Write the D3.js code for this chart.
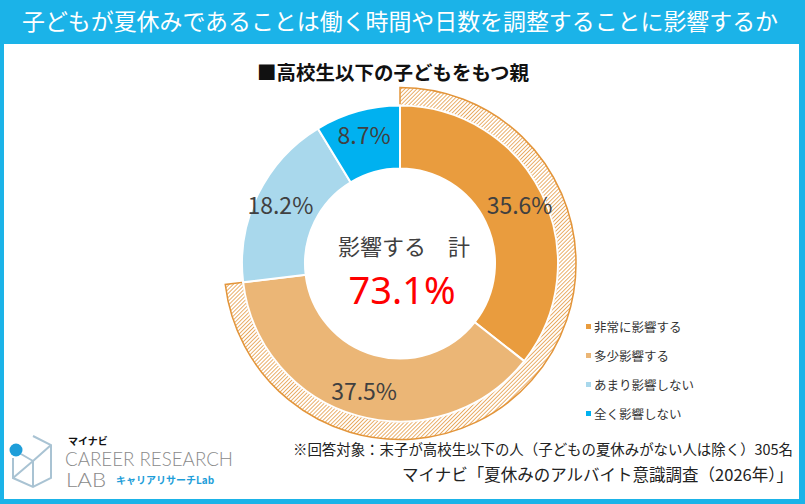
<!DOCTYPE html>
<html>
<head>
<meta charset="utf-8">
<script src="https://cdn.jsdelivr.net/npm/d3@7"></script>
<style>
  body { margin: 0; background: #fff; }
  svg { display: block; font-family: "Noto Sans CJK JP", "Noto Sans", sans-serif; }
</style>
</head>
<body>
<div id="chart"></div>
<script>
// data
var categories = ["非常に影響する", "多少影響する", "あまり影響しない", "全く影響しない"];
var values = [35.6, 37.5, 18.2, 8.7];
var colors = ["#E99C3E", "#EBB676", "#A9D8EC", "#00B1F0"];
var totalLabel = "影響する　計";
var titleText = "子どもが夏休みであることは働く時間や日数を調整することに影響するか";
var subTitle = "■高校生以下の子どもをもつ親";
var noteText = "※回答対象：末子が高校生以下の人（子どもの夏休みがない人は除く）305名";
var sourceText = "マイナビ「夏休みのアルバイト意識調査（2026年）」";

var width = 805, height = 504,
    cx = 400, cy = 263.5,
    rIn = 95, rOut = 158, rHatch = 176;

var svg = d3.select("#chart")
    .append("svg")
    .attr("width", width)
    .attr("height", height);

// hatch pattern
var defs = svg.append("defs");
defs.append("pattern")
    .attr("id", "hatch")
    .attr("patternUnits", "userSpaceOnUse")
    .attr("width", 2.8)
    .attr("height", 2.8)
    .attr("patternTransform", "rotate(45)")
    .append("line")
    .attr("x1", 0).attr("y1", 0)
    .attr("x2", 0).attr("y2", 2.8)
    .attr("stroke", "#E3953A")
    .attr("stroke-width", 1.5);

// frame
svg.append("rect").attr("x", 0).attr("y", 0).attr("width", width).attr("height", height).attr("fill", "#1BB3E8");
svg.append("rect").attr("x", 4).attr("y", 44).attr("width", 795).attr("height", 455).attr("fill", "#fff");

svg.append("text")
    .attr("x", 400).attr("y", 30)
    .attr("text-anchor", "middle")
    .attr("fill", "#fff")
    .attr("font-size", 22.5)
    .attr("textLength", 756)
    .attr("lengthAdjust", "spacingAndGlyphs")
    .text(titleText);

svg.append("text")
    .attr("x", 393).attr("y", 80)
    .attr("text-anchor", "middle")
    .attr("fill", "#111")
    .attr("font-size", 19.5)
    .attr("font-weight", "bold")
    .text(subTitle);

var pie = d3.pie().sort(null).value(d => d);
var arcs = pie(values);
var arc = d3.arc().innerRadius(rIn).outerRadius(rOut);
var labelArc = d3.arc().innerRadius(133).outerRadius(133);

var g = svg.append("g").attr("transform", `translate(${cx},${cy})`);

// hatched ring for the two "影響する" slices
var total = values[0] + values[1];
var hatchArc = d3.arc()
    .innerRadius(rOut)
    .outerRadius(rHatch)
    .startAngle(0)
    .endAngle(2 * Math.PI * total / d3.sum(values));
g.append("path")
    .attr("d", hatchArc())
    .attr("fill", "url(#hatch)")
    .attr("stroke", "#E3953A")
    .attr("stroke-width", 1.5);

g.selectAll(".slice")
    .data(arcs)
    .enter()
    .append("path")
    .attr("class", "slice")
    .attr("d", arc)
    .attr("fill", (d, i) => colors[i])
    .attr("stroke", "#fff")
    .attr("stroke-width", 2);

g.selectAll(".lbl")
    .data(arcs)
    .enter()
    .append("text")
    .attr("class", "lbl")
    .attr("transform", d => `translate(${labelArc.centroid(d)})`)
    .attr("text-anchor", "middle")
    .attr("dy", "0.36em")
    .attr("fill", "#404040")
    .attr("font-size", 23)
    .text(d => d.data.toFixed(1) + "%");

g.append("text")
    .attr("x", 4).attr("y", -9)
    .attr("text-anchor", "middle")
    .attr("fill", "#404040")
    .attr("font-size", 22)
    .text(totalLabel);

g.append("text")
    .attr("x", 2).attr("y", 40)
    .attr("text-anchor", "middle")
    .attr("fill", "#FF0000")
    .attr("font-family", "'Noto Sans', sans-serif")
    .attr("font-size", 38)
    .text(total.toFixed(1) + "%");

// legend
var legend = svg.append("g").attr("transform", "translate(586,327)");
var rows = legend.selectAll("g")
    .data(categories)
    .enter()
    .append("g")
    .attr("transform", (d, i) => `translate(0,${i * 29})`);
rows.append("rect")
    .attr("x", 0).attr("y", -3)
    .attr("width", 5).attr("height", 5)
    .attr("fill", (d, i) => colors[i]);
rows.append("text")
    .attr("x", 8).attr("dy", "0.36em")
    .attr("fill", "#333")
    .attr("font-size", 12.5)
    .text(d => d);

// notes
svg.append("text")
    .attr("x", 793).attr("y", 455)
    .attr("text-anchor", "end")
    .attr("fill", "#222")
    .attr("font-size", 14.5)
    .attr("textLength", 500)
    .attr("lengthAdjust", "spacingAndGlyphs")
    .text(noteText);

svg.append("text")
    .attr("x", 793).attr("y", 481)
    .attr("text-anchor", "end")
    .attr("fill", "#222")
    .attr("font-size", 16.5)
    .text(sourceText);

// logo
var logo = svg.append("g");
logo.append("path")
    .attr("d", "M33,436 L51,445 L51,478 L33,487 L13,478 L13,458 M33,461 L51,445 M33,461 L33,487 M21,454 L33,461 M33,461 L13,478")
    .attr("fill", "none")
    .attr("stroke", "#A9C3D3")
    .attr("stroke-width", 2);
logo.append("circle")
    .attr("cx", 16).attr("cy", 450).attr("r", 6.5)
    .attr("fill", "#1E9ED9");
logo.append("text")
    .attr("x", 68).attr("y", 445)
    .attr("font-size", 10)
    .attr("font-weight", "bold")
    .attr("fill", "#111")
    .text("マイナビ");
logo.append("text")
    .attr("x", 65).attr("y", 466)
    .attr("font-family", "Lato, 'Open Sans', sans-serif")
    .attr("font-weight", 300)
    .attr("font-size", 19)
    .attr("fill", "#8a8a8a")
    .attr("textLength", 168)
    .attr("lengthAdjust", "spacingAndGlyphs")
    .text("CAREER RESEARCH");
logo.append("text")
    .attr("x", 66).attr("y", 487)
    .attr("font-family", "Lato, 'Open Sans', sans-serif")
    .attr("font-weight", 300)
    .attr("font-size", 19)
    .attr("fill", "#8a8a8a")
    .attr("textLength", 40)
    .attr("lengthAdjust", "spacingAndGlyphs")
    .text("LAB");
logo.append("text")
    .attr("x", 116).attr("y", 484)
    .attr("font-size", 10)
    .attr("font-weight", "bold")
    .attr("fill", "#1E9ED9")
    .text("キャリアリサーチLab");
</script>
</body>
</html>
